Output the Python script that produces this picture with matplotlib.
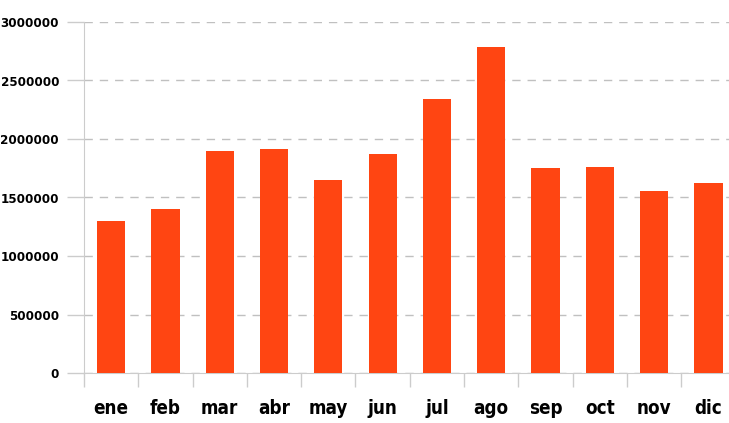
import matplotlib.pyplot as plt
from matplotlib.ticker import FixedLocator

months = ["ene", "feb", "mar", "abr", "may", "jun", "jul", "ago", "sep", "oct", "nov", "dic"]
values = [1300000, 1400000, 1900000, 1915000, 1650000, 1870000,
          2342000, 2786000, 1752000, 1761000, 1556000, 1624000]
yticks = [0, 500000, 1000000, 1500000, 2000000, 2500000, 3000000]

plt.rcParams['font.family'] = ['DejaVu Sans']
plt.rcParams['font.weight'] = 'bold'
plt.rcParams['font.stretch'] = 'condensed'

fig = plt.figure(figsize=(7.29, 4.23), dpi=100)
W, H = 729, 423
left, top, bottom = 84, 22, 373
band = 54.3
ax = fig.add_axes([left / W, 1 - bottom / H, band * 12 / W, (bottom - top) / H])

x = list(range(len(months)))
ax.bar(x, values, width=0.52, color="#ff4512", zorder=3)

ax.set_xlim(-0.5, 11.5)
ax.set_ylim(0, 3000000)
ax.set_yticks(yticks)
ax.set_yticklabels([str(v) for v in yticks], fontsize=9.5)

ax.set_xticks(x)
ax.set_xticklabels(months, fontsize=13.5)
ax.tick_params(axis="x", which="major", length=0, pad=19)
ax.xaxis.set_minor_locator(FixedLocator([i - 0.5 for i in range(13)]))
ax.tick_params(axis="x", which="minor", length=10, color="#cccccc", width=1)
ax.tick_params(axis="y", length=12, color="#cccccc", width=1, pad=6)

ax.grid(axis="y", color="#c0c0c0", linestyle=(0, (6, 5)), linewidth=1, zorder=0)

for s in ["top", "right"]:
    ax.spines[s].set_visible(False)
ax.spines["left"].set_color("#cccccc")
ax.spines["bottom"].set_color("#cccccc")

fig.savefig("out.png", dpi=100)
